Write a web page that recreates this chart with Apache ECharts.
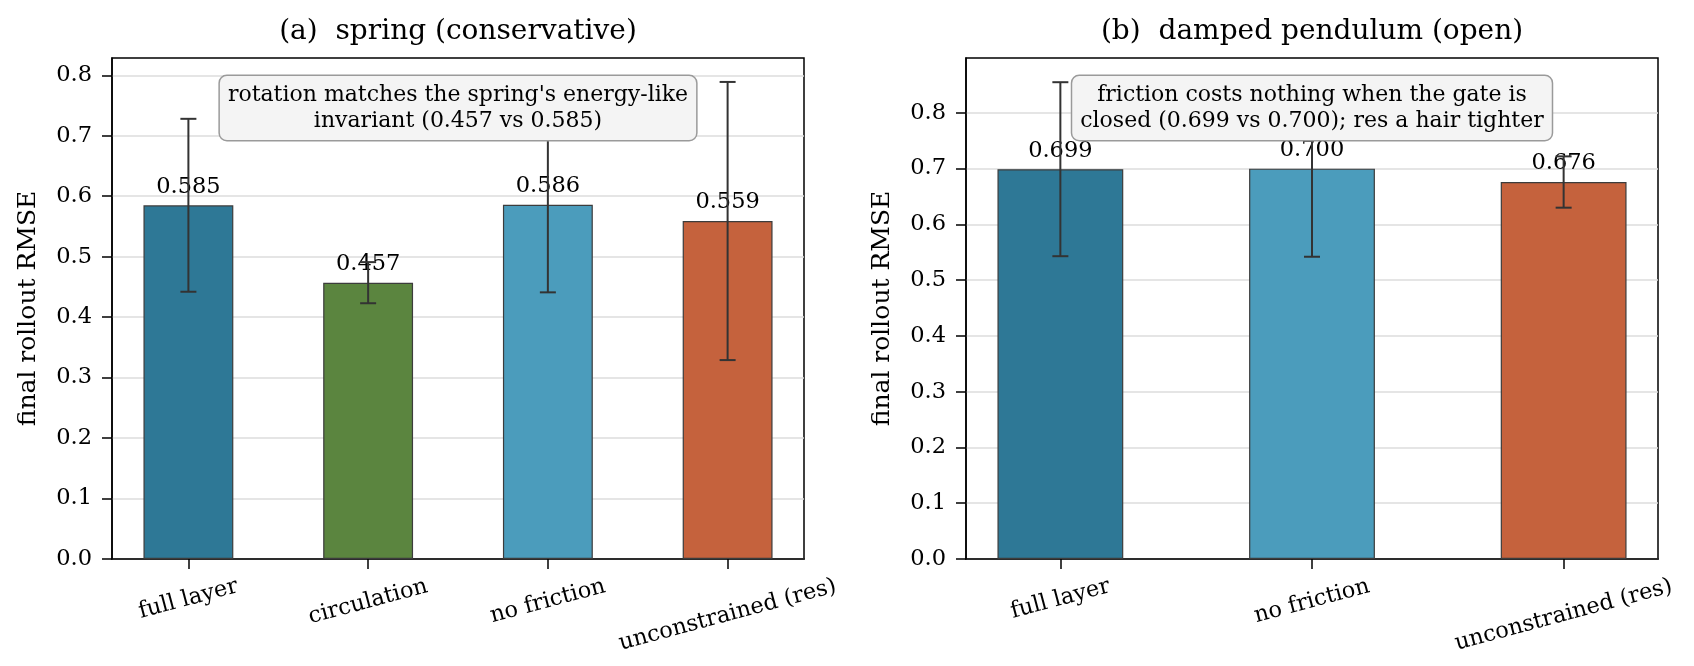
<!DOCTYPE html>
<html>
<head>
<meta charset="utf-8">
<script src="https://cdn.jsdelivr.net/npm/echarts@6/dist/echarts.min.js"></script>
<style>
html,body{margin:0;padding:0;background:#ffffff;}
#chart{width:1694px;height:666px;}
</style>
</head>
<body>
<div id="chart"></div>
<script>
// ---------------- data ----------------
const springCategories = ['full layer', 'circulation', 'no friction', 'unconstrained (res)'];
const springMeans = [0.585, 0.457, 0.586, 0.559];
const springErrors = [0.143, 0.034, 0.145, 0.230];
const springYMax = 0.8286;

const pendulumCategories = ['full layer', 'no friction', 'unconstrained (res)'];
const pendulumMeans = [0.699, 0.700, 0.676];
const pendulumErrors = [0.156, 0.158, 0.046];
const pendulumYMax = 0.8984;

const yTicks = [0.0, 0.1, 0.2, 0.3, 0.4, 0.5, 0.6, 0.7, 0.8];

const panelTitles = ['(a)  spring (conservative)', '(b)  damped pendulum (open)'];
const panelNotes = [
  "rotation matches the spring's energy-like\ninvariant (0.457 vs 0.585)",
  "friction costs nothing when the gate is\nclosed (0.699 vs 0.700); res a hair tighter"
];
const yAxisName = 'final rollout RMSE';

// ---------------- styles ----------------
const barColors = {
  'full layer': '#2e7896',
  'circulation': '#5b853f',
  'no friction': '#4b9cbc',
  'unconstrained (res)': '#c5623d'
};
const FONT = 'DejaVu Serif';
const TICK_FS = 22.5, LABEL_FS = 25, TITLE_FS = 28, BARLABEL_FS = 22.5, NOTE_FS = 22;
const ROT = 15;

// ---------------- layout ----------------
const W = 1694, H = 666;
const TOP = 58, BOTTOM = 559;
const panelBoxes = [{left: 112, right: 804}, {left: 966, right: 1658}];

const panels = [
  {cats: springCategories, means: springMeans, errs: springErrors, yMax: springYMax},
  {cats: pendulumCategories, means: pendulumMeans, errs: pendulumErrors, yMax: pendulumYMax}
];

const mctx = document.createElement('canvas').getContext('2d');
mctx.font = TICK_FS + 'px "' + FONT + '"';
const rad = ROT * Math.PI / 180;

const grid = [], xAxis = [], yAxis = [], series = [], graphic = [];

panels.forEach(function (p, i) {
  const box = panelBoxes[i];
  const n = p.cats.length;
  const margin = 0.05 * (n - 0.5);
  const xmin = -0.25 - margin, xmax = (n - 1) + 0.25 + margin;
  const gw = box.right - box.left;
  const barWidth = 0.5 * gw / (xmax - xmin);
  const idx = p.cats.map(function (_, j) { return j; });

  grid.push({
    left: box.left, width: gw, top: TOP, height: BOTTOM - TOP,
    show: true, borderColor: '#000', borderWidth: 1.5, backgroundColor: 'transparent',
    containLabel: false, outerBoundsMode: 'none'
  });

  const rich = {};
  p.cats.forEach(function (c, j) {
    const L = mctx.measureText(c).width;
    const D = (L / 2) * Math.sin(rad);
    const b = D * Math.cos(rad), a = D * Math.sin(rad);
    rich['p' + j] = {
      fontFamily: FONT, fontSize: TICK_FS, color: '#000',
      padding: [2 * b, 2 * a, 0, 0]
    };
  });

  xAxis.push({
    type: 'value', gridIndex: i, min: xmin, max: xmax,
    splitLine: {show: false},
    axisLine: {show: true, onZero: false, lineStyle: {color: '#000', width: 1.5}},
    axisTick: {show: true, customValues: idx, length: 10, lineStyle: {color: '#000', width: 1.5}},
    axisLabel: {
      show: true, customValues: idx, rotate: ROT, align: 'center', verticalAlign: 'middle',
      margin: 27, fontFamily: FONT, fontSize: TICK_FS, color: '#000',
      formatter: function (v) { const j = Math.round(v); return '{p' + j + '|' + p.cats[j] + '}'; },
      rich: rich
    }
  });

  yAxis.push({
    type: 'value', gridIndex: i, min: 0, max: p.yMax, interval: 0.1,
    name: yAxisName, nameLocation: 'middle', nameGap: 71,
    nameTextStyle: {fontFamily: FONT, fontSize: LABEL_FS, color: '#000'},
    axisLine: {show: true, onZero: false, lineStyle: {color: '#000', width: 1.5}},
    axisTick: {show: true, customValues: yTicks, length: 10, lineStyle: {color: '#000', width: 1.5}},
    axisLabel: {
      show: true, customValues: yTicks, margin: 20,
      fontFamily: FONT, fontSize: TICK_FS, color: '#000',
      formatter: function (v) { return v.toFixed(1); }
    },
    splitLine: {show: true, lineStyle: {color: '#dddddd', width: 1.5}}
  });

  series.push({
    type: 'bar', xAxisIndex: i, yAxisIndex: i, barWidth: barWidth, z: 2,
    data: p.means.map(function (m, j) {
      return {value: [j, m], itemStyle: {color: barColors[p.cats[j]]}};
    }),
    itemStyle: {borderColor: '#3c3c3c', borderWidth: 1.2},
    label: {
      show: true, position: 'top', distance: 7,
      fontFamily: FONT, fontSize: BARLABEL_FS, color: '#000',
      formatter: function (q) { return q.value[1].toFixed(3); }
    },
    emphasis: {disabled: true}, silent: true
  });

  series.push({
    type: 'custom', xAxisIndex: i, yAxisIndex: i, z: 3, silent: true,
    data: p.means.map(function (m, j) { return [j, m - p.errs[j], m + p.errs[j]]; }),
    encode: {x: 0, y: [1, 2]},
    renderItem: function (params, api) {
      const x = api.value(0);
      const lo = api.coord([x, api.value(1)]);
      const hi = api.coord([x, api.value(2)]);
      const cap = 8;
      const st = {stroke: '#333333', lineWidth: 2};
      return {
        type: 'group',
        children: [
          {type: 'line', shape: {x1: lo[0], y1: lo[1], x2: hi[0], y2: hi[1]}, style: st},
          {type: 'line', shape: {x1: lo[0] - cap, y1: lo[1], x2: lo[0] + cap, y2: lo[1]}, style: st},
          {type: 'line', shape: {x1: hi[0] - cap, y1: hi[1], x2: hi[0] + cap, y2: hi[1]}, style: st}
        ]
      };
    }
  });

  const cx = (box.left + box.right) / 2;
  graphic.push({
    type: 'text', x: cx, y: 32, z: 100, silent: true,
    style: {text: panelTitles[i], align: 'center', verticalAlign: 'middle',
      fontFamily: FONT, fontSize: TITLE_FS, fill: '#000'}
  });
  graphic.push({
    type: 'text', x: cx, y: 76, z: 100, silent: true,
    style: {
      text: panelNotes[i], align: 'center', verticalAlign: 'top',
      fontFamily: FONT, fontSize: NOTE_FS, lineHeight: 26, fill: '#000',
      backgroundColor: '#f4f4f4', borderColor: '#9a9a9a', borderWidth: 1.5,
      borderRadius: 7, padding: [6, 8, 6, 8]
    }
  });
});

const chart = echarts.init(document.getElementById('chart'), null, {renderer: 'canvas', width: W, height: H});
chart.setOption({
  animation: false,
  backgroundColor: '#ffffff',
  grid: grid, xAxis: xAxis, yAxis: yAxis, series: series, graphic: graphic
});
</script>
</body>
</html>
